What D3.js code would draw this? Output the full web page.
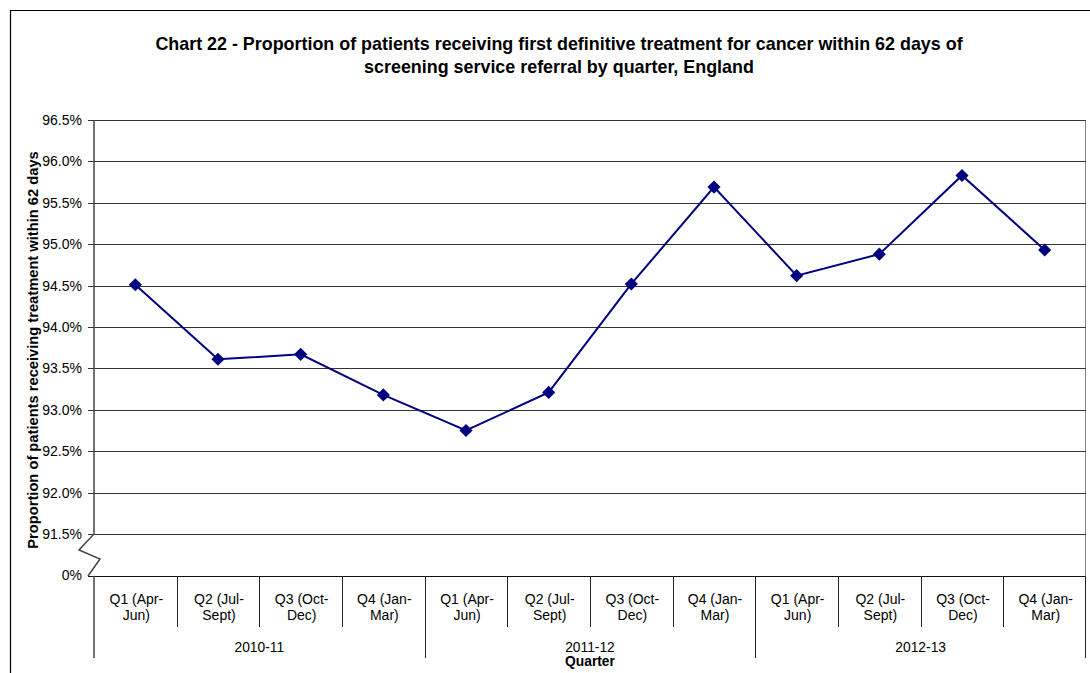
<!DOCTYPE html>
<html>
<head>
<meta charset="utf-8">
<script src="https://cdn.jsdelivr.net/npm/d3@7"></script>
<style>
  body { margin: 0; background: #fff; }
  svg { display: block; font-family: "Liberation Sans", Arial, sans-serif; }
  .axis path, .axis line { shape-rendering: crispEdges; }
</style>
</head>
<body>
<div id="chart"></div>
<script>
// categories
var quarters = ["Q1 (Apr-|Jun)", "Q2 (Jul-|Sept)", "Q3 (Oct-|Dec)", "Q4 (Jan-|Mar)",
                "Q1 (Apr-|Jun)", "Q2 (Jul-|Sept)", "Q3 (Oct-|Dec)", "Q4 (Jan-|Mar)",
                "Q1 (Apr-|Jun)", "Q2 (Jul-|Sept)", "Q3 (Oct-|Dec)", "Q4 (Jan-|Mar)"];
var years = ["2010-11", "2011-12", "2012-13"];
// % treated within 62 days
var values = [94.51, 93.61, 93.67, 93.18, 92.75, 93.21, 94.52, 95.69, 94.62, 94.88, 95.83, 94.93];
var yTicks = [91.5, 92.0, 92.5, 93.0, 93.5, 94.0, 94.5, 95.0, 95.5, 96.0, 96.5];

var titleLines = ["Chart 22 - Proportion of patients receiving first definitive treatment for cancer within 62 days of",
                  "screening service referral by quarter, England"];

var w = 1090, h = 673;
var plotL = 94, plotR = 1086, plotT = 120, yBreak = 534, base = 576;

var svg = d3.select("#chart").append("svg")
    .attr("width", w)
    .attr("height", h);

// outer frame
svg.append("path")
    .attr("d", "M10.5," + h + "V10.5H" + w)
    .attr("fill", "none")
    .attr("stroke", "#000")
    .attr("stroke-width", 1.2);

// title
svg.append("text")
    .attr("x", 559)
    .attr("y", 50)
    .attr("text-anchor", "middle")
    .style("font-weight", "bold")
    .style("font-size", "17.9px")
    .selectAll("tspan")
    .data(titleLines)
    .enter()
    .append("tspan")
    .attr("x", 559)
    .attr("dy", function(d, i) { return i === 0 ? 0 : 23; })
    .text(function(d) { return d; });

var xScale = d3.scaleBand()
    .domain(d3.range(quarters.length))
    .range([plotL, plotR]);

var yScale = d3.scaleLinear()
    .domain([91.5, 96.5])
    .range([yBreak, plotT]);

// plot border (top/right)
svg.append("path")
    .attr("d", "M" + plotL + "," + (plotT + 0.5) + "H" + (plotR - 0.5) + "V" + base)
    .attr("fill", "none")
    .attr("stroke", "#888")
    .attr("stroke-width", 1);

// gridlines + y labels
var yAxis = d3.axisLeft(yScale)
    .tickValues(yTicks)
    .tickSize(-(plotR - plotL))
    .tickPadding(12)
    .tickFormat(function(d) { return d3.format(".1f")(d) + "%"; });

var gy = svg.append("g")
    .attr("class", "axis")
    .attr("transform", "translate(" + plotL + ",0)")
    .call(yAxis);
gy.select(".domain").remove();
gy.selectAll(".tick line")
    .attr("x1", -6)
    .attr("stroke", "#333");
gy.selectAll(".tick text")
    .style("font-size", "14px")
    .style("font-family", "\"Liberation Sans\", Arial, sans-serif")
    .attr("fill", "#000");

// break segment: 0% baseline
svg.append("line")
    .attr("x1", plotL - 6).attr("x2", plotR)
    .attr("y1", base + 0.5).attr("y2", base + 0.5)
    .attr("stroke", "#111");
svg.append("text")
    .attr("x", plotL - 12)
    .attr("y", base)
    .attr("dy", "0.32em")
    .attr("text-anchor", "end")
    .style("font-size", "14px")
    .text("0%");

// y axis line with break zigzag
svg.append("path")
    .attr("d", "M" + plotL + "," + plotT + "V" + yBreak +
               "L79,550L100,559L88,576" +
               "M" + plotL + "," + base + "V658")
    .attr("fill", "none")
    .attr("stroke", "#444")
    .attr("stroke-width", 1.5);

// category labels
var bw = xScale.bandwidth();
var cat = svg.append("g");
cat.selectAll("line.sep")
    .data(d3.range(1, quarters.length))
    .enter()
    .append("line")
    .attr("class", "sep")
    .attr("x1", function(d) { return Math.round(xScale(d)) + 0.5; })
    .attr("x2", function(d) { return Math.round(xScale(d)) + 0.5; })
    .attr("y1", base)
    .attr("y2", function(d) { return d % 4 === 0 ? 658 : 627; })
    .attr("stroke", "#222");
cat.append("line")
    .attr("x1", plotR - 0.5).attr("x2", plotR - 0.5)
    .attr("y1", base).attr("y2", 658)
    .attr("stroke", "#222");

var qText = cat.selectAll("text.q")
    .data(quarters)
    .enter()
    .append("text")
    .attr("class", "q")
    .attr("text-anchor", "middle")
    .style("font-size", "14px")
    .attr("transform", function(d, i) { return "translate(" + (xScale(i) + bw / 2 + 1) + ",604)"; });
qText.selectAll("tspan")
    .data(function(d) { return d.split("|"); })
    .enter()
    .append("tspan")
    .attr("x", 0)
    .attr("dy", function(d, i) { return i === 0 ? 0 : 16; })
    .text(function(d) { return d; });

cat.selectAll("text.yr")
    .data(years)
    .enter()
    .append("text")
    .attr("class", "yr")
    .attr("text-anchor", "middle")
    .attr("x", function(d, i) { return (xScale(i * 4) + xScale(i * 4 + 3) + bw) / 2; })
    .attr("y", 652)
    .style("font-size", "13.8px")
    .text(function(d) { return d; });

// axis titles
svg.append("text")
    .attr("x", 590)
    .attr("y", 666)
    .attr("text-anchor", "middle")
    .style("font-size", "13.8px")
    .style("font-weight", "bold")
    .text("Quarter");

svg.append("text")
    .attr("transform", "translate(38," + ((plotT + base) / 2 + 2) + ") rotate(-90)")
    .attr("text-anchor", "middle")
    .style("font-size", "14.7px")
    .style("font-weight", "bold")
    .text("Proportion of patients receiving treatment within 62 days");

// series
var line = d3.line()
    .x(function(d, i) { return xScale(i) + bw / 2; })
    .y(function(d) { return yScale(d); });

svg.append("path")
    .datum(values)
    .attr("d", line)
    .attr("fill", "none")
    .attr("stroke", "#000080")
    .attr("stroke-width", 2);

svg.selectAll("path.marker")
    .data(values)
    .enter()
    .append("path")
    .attr("class", "marker")
    .attr("d", d3.symbol().type(d3.symbolDiamond2).size(110))
    .attr("transform", function(d, i) { return "translate(" + (xScale(i) + bw / 2) + "," + yScale(d) + ")"; })
    .attr("fill", "#000080");
</script>
</body>
</html>
